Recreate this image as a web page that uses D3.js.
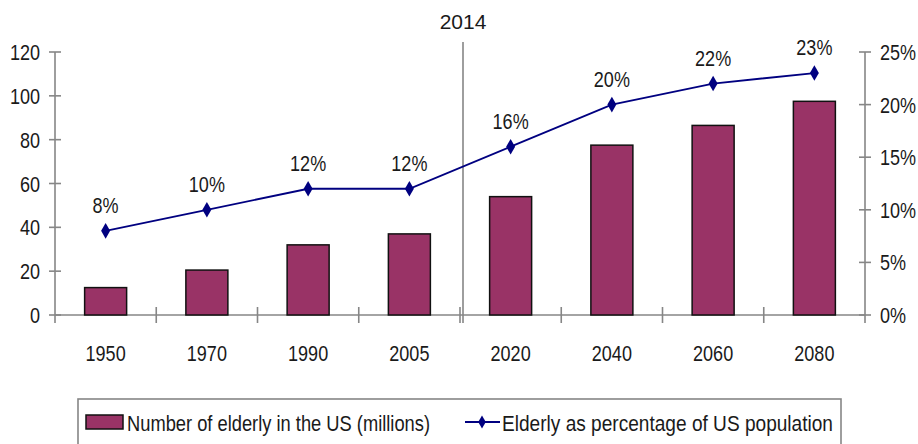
<!DOCTYPE html>
<html>
<head>
<meta charset="utf-8">
<script src="https://cdn.jsdelivr.net/npm/d3@7"></script>
<style>
  html, body { margin: 0; padding: 0; background: #fff; }
  svg { display: block; font-family: "Liberation Sans", Arial, sans-serif; }
</style>
</head>
<body>
<svg id="chart" width="918" height="444"></svg>
<script>
const years = ["1950", "1970", "1990", "2005", "2020", "2040", "2060", "2080"];
const elderlyMillions = [12.5, 20.5, 32, 37, 54, 77.5, 86.5, 97.5];
const elderlyPct = [8, 10, 12, 12, 16, 20, 22, 23];
const leftTicks = [0, 20, 40, 60, 80, 100, 120];
const rightTicks = [0, 5, 10, 15, 20, 25];
const markerLabel = "2014";
const legendLabels = ["Number of elderly in the US (millions)", "Elderly as percentage of US population"];

const svg = d3.select("#chart");
const axisColor = "#868686";
const textColor = "#1a1a1a";
const barColor = "#993366";
const lineColor = "#000080";
const FS = 22;
const SX = 0.82;

const x = d3.scaleBand().domain(years).range([55, 865]).padding(0);
const yL = d3.scaleLinear().domain([0, 120]).range([315, 52]);
const yR = d3.scaleLinear().domain([0, 25]).range([315, 52]);

function label(tx, ty, str, anchor, size, sx, len) {
  const g = svg.append("g").attr("transform", `translate(${tx},${ty}) scale(${sx},1)`);
  const t = g.append("text").attr("text-anchor", anchor).attr("font-size", size)
    .attr("fill", textColor).text(str);
  if (len) t.attr("textLength", len / sx).attr("lengthAdjust", "spacingAndGlyphs");
}

// left axis
const gl = svg.append("g");
gl.append("line").attr("x1", 55).attr("x2", 55).attr("y1", yL(120)).attr("y2", 323)
  .attr("stroke", axisColor).attr("stroke-width", 1.6);
leftTicks.forEach(t => {
  gl.append("line").attr("x1", 49).attr("x2", 61).attr("y1", yL(t)).attr("y2", yL(t))
    .attr("stroke", axisColor).attr("stroke-width", 1.6);
  label(40, yL(t) + 8, String(t), "end", FS, SX);
});

// right axis
const gr = svg.append("g");
gr.append("line").attr("x1", 865).attr("x2", 865).attr("y1", yR(25)).attr("y2", 323)
  .attr("stroke", axisColor).attr("stroke-width", 1.6);
rightTicks.forEach(t => {
  gr.append("line").attr("x1", 859).attr("x2", 871).attr("y1", yR(t)).attr("y2", yR(t))
    .attr("stroke", axisColor).attr("stroke-width", 1.6);
  label(880, yR(t) + 8, t + "%", "start", FS, SX);
});

// x axis
svg.append("line").attr("x1", 55).attr("x2", 865).attr("y1", 315).attr("y2", 315)
  .attr("stroke", axisColor).attr("stroke-width", 1.6);
years.forEach((yr, i) => {
  if (i > 0) {
    const xx = x(yr);
    svg.append("line").attr("x1", xx).attr("x2", xx).attr("y1", 307).attr("y2", 323)
      .attr("stroke", axisColor).attr("stroke-width", 1.6);
  }
  label(x(yr) + x.bandwidth() / 2, 361, yr, "middle", FS, SX);
});

// 2014 marker line
const mx = x("2020") + 3;
svg.append("line").attr("x1", mx).attr("x2", mx).attr("y1", 42).attr("y2", 323)
  .attr("stroke", axisColor).attr("stroke-width", 1.6);
label(mx, 29, markerLabel, "middle", 21, 1);

// bars
const bw = 42;
svg.append("g").selectAll("rect").data(years).join("rect")
  .attr("x", d => x(d) + x.bandwidth() / 2 - bw / 2)
  .attr("width", bw)
  .attr("y", (d, i) => yL(elderlyMillions[i]))
  .attr("height", (d, i) => yL(0) - yL(elderlyMillions[i]))
  .attr("fill", barColor).attr("stroke", "#111").attr("stroke-width", 1.5);

// line
const pts = years.map((d, i) => [x(d) + x.bandwidth() / 2, yR(elderlyPct[i])]);
svg.append("path").attr("d", d3.line()(pts)).attr("fill", "none")
  .attr("stroke", lineColor).attr("stroke-width", 1.8);
const diamond = d3.symbol().type(d3.symbolDiamond).size(70);
pts.forEach((p, i) => {
  svg.append("path").attr("d", diamond()).attr("transform", `translate(${p[0]},${p[1]})`)
    .attr("fill", lineColor);
  label(p[0], p[1] - 18, elderlyPct[i] + "%", "middle", FS, SX);
});

// legend
svg.append("rect").attr("x", 78).attr("y", 399).attr("width", 763).attr("height", 50)
  .attr("fill", "#fff").attr("stroke", axisColor).attr("stroke-width", 1.6);
svg.append("rect").attr("x", 86).attr("y", 415).attr("width", 37).attr("height", 14)
  .attr("fill", barColor).attr("stroke", "#111").attr("stroke-width", 1.5);
label(127, 431, legendLabels[0], "start", FS, SX, 303);
svg.append("line").attr("x1", 465).attr("x2", 500).attr("y1", 422).attr("y2", 422)
  .attr("stroke", lineColor).attr("stroke-width", 1.8);
svg.append("path").attr("d", d3.symbol().type(d3.symbolDiamond).size(50)())
  .attr("transform", "translate(482,422)").attr("fill", lineColor);
label(502, 431, legendLabels[1], "start", FS, SX, 331);
</script>
</body>
</html>
